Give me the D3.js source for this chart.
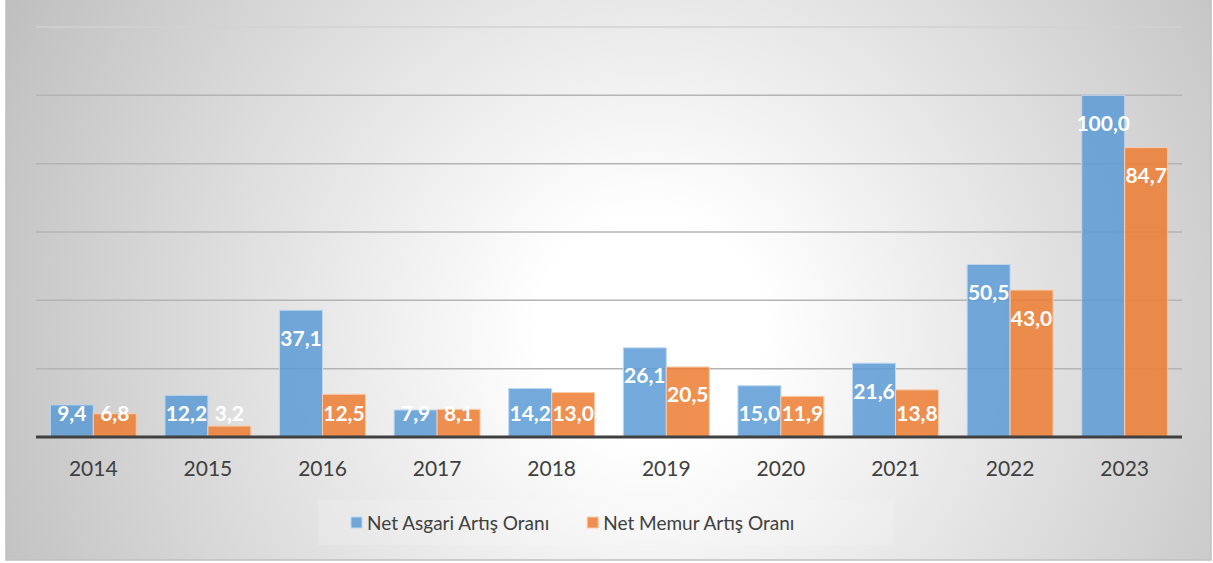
<!DOCTYPE html>
<html>
<head>
<meta charset="utf-8">
<script src="https://cdn.jsdelivr.net/npm/d3@7"></script>
<style>
  html, body { margin: 0; padding: 0; background: #fff; }
  svg { display: block; }
</style>
</head>
<body>
<div id="chart"></div>
<script>
const years = ['2014', '2015', '2016', '2017', '2018', '2019', '2020', '2021', '2022', '2023'];
const asgari = [9.4, 12.2, 37.1, 7.9, 14.2, 26.1, 15.0, 21.6, 50.5, 100.0];
const memur = [6.8, 3.2, 12.5, 8.1, 13.0, 20.5, 11.9, 13.8, 43.0, 84.7];
const seriesNames = ['Net Asgari Artış Oranı', 'Net Memur Artış Oranı'];
const yTicks = [20, 40, 60, 80, 100, 120];

const w = 1213;
const h = 563;
const font = 'Lato, "Open Sans", sans-serif';

const svg = d3.select('#chart')
  .append('svg')
  .attr('width', w)
  .attr('height', h);

// background gradient
const defs = svg.append('defs');
const grad = defs.append('radialGradient')
  .attr('id', 'bg')
  .attr('gradientUnits', 'userSpaceOnUse')
  .attr('cx', 650).attr('cy', 330).attr('r', 750);
grad.append('stop').attr('offset', 0).attr('stop-color', '#ffffff');
grad.append('stop').attr('offset', 0.15).attr('stop-color', '#ffffff');
grad.append('stop').attr('offset', 1).attr('stop-color', '#bcbcbc');

svg.append('rect')
  .attr('x', 6).attr('y', -2)
  .attr('width', 1205).attr('height', 562)
  .attr('fill', 'url(#bg)')
  .attr('stroke', '#bfbfbf')
  .attr('stroke-width', 1.5);

const x0 = d3.scaleBand()
  .domain(years)
  .range([36, 1182])
  .paddingInner(0.25)
  .paddingOuter(0.125);

const x1 = d3.scaleBand()
  .domain([0, 1])
  .range([0, x0.bandwidth()]);

const y = d3.scaleLinear()
  .domain([0, 120])
  .range([437, 27]);

// gridlines
svg.append('g')
  .selectAll('line')
  .data(yTicks)
  .enter()
  .append('line')
  .attr('x1', 36).attr('x2', 1182)
  .attr('y1', d => y(d)).attr('y2', d => y(d))
  .attr('stroke', d => d === 120 ? '#d2d2d2' : '#b4b4b4')
  .attr('stroke-width', 1.5);

const colors = ['#5b9bd5', '#ed7d31'];
const strokes = ['#bdd7ee', '#f8cbad'];
const dataset = years.map((yr, i) => ({ year: yr, vals: [asgari[i], memur[i]] }));

const groups = svg.append('g')
  .selectAll('g')
  .data(dataset)
  .enter()
  .append('g')
  .attr('transform', d => 'translate(' + x0(d.year) + ',0)');

groups.selectAll('rect')
  .data(d => d.vals.map((v, k) => ({ v, k })))
  .enter()
  .append('rect')
  .attr('x', d => x1(d.k))
  .attr('y', d => y(d.v))
  .attr('width', x1.bandwidth())
  .attr('height', d => y(0) - y(d.v))
  .attr('fill', d => colors[d.k])
  .attr('fill-opacity', 0.85)
  .attr('stroke', d => strokes[d.k])
  .attr('stroke-width', 1);

// baseline
svg.append('line')
  .attr('x1', 36).attr('x2', 1182)
  .attr('y1', y(0)).attr('y2', y(0))
  .attr('stroke', '#404040')
  .attr('stroke-width', 3);

// value labels (inside end)
groups.selectAll('text')
  .data(d => d.vals.map((v, k) => ({ v, k })))
  .enter()
  .append('text')
  .attr('x', d => x1(d.k) + x1.bandwidth() / 2)
  .attr('y', d => Math.min(y(d.v) + 28, 413) + 7.5)
  .attr('text-anchor', 'middle')
  .attr('font-family', font)
  .attr('font-weight', 'bold')
  .attr('font-size', 21)
  .attr('fill', '#ffffff')
  .text(d => d3.format('.1f')(d.v).replace('.', ','));

// x axis labels
svg.append('g')
  .selectAll('text')
  .data(years)
  .enter()
  .append('text')
  .attr('x', d => x0(d) + x0.bandwidth() / 2)
  .attr('y', 476)
  .attr('text-anchor', 'middle')
  .attr('font-family', font)
  .attr('font-size', 21)
  .attr('fill', '#404040')
  .text(d => d);

// legend
svg.append('rect')
  .attr('x', 318).attr('y', 500)
  .attr('width', 575).attr('height', 45)
  .attr('fill', '#ffffff')
  .attr('fill-opacity', 0.15);

const legend = svg.append('g');
let lx = 351;
seriesNames.forEach((name, k) => {
  legend.append('rect')
    .attr('x', lx).attr('y', 517)
    .attr('width', 11).attr('height', 11)
    .attr('fill', colors[k])
    .attr('fill-opacity', 0.85)
    .attr('stroke', strokes[k]);
  const t = legend.append('text')
    .attr('x', lx + 16)
    .attr('y', 530)
    .attr('font-family', font)
    .attr('font-size', 19)
    .attr('fill', '#404040')
    .text(name);
  lx += 16 + t.node().getComputedTextLength() + 38;
});
</script>
</body>
</html>
